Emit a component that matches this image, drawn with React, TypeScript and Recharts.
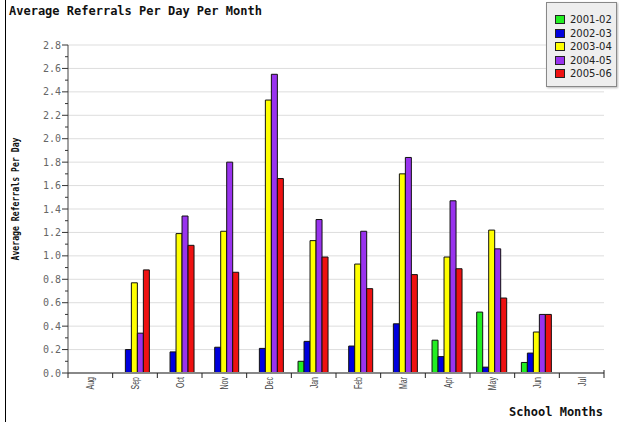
import React from 'react';
import { BarChart, Bar, XAxis, YAxis, CartesianGrid } from 'recharts';

const months = ['Aug', 'Sep', 'Oct', 'Nov', 'Dec', 'Jan', 'Feb', 'Mar', 'Apr', 'May', 'Jun', 'Jul'];
const s0102 = [null, null, null, null, null, 0.10, null, null, 0.28, 0.52, 0.09, null];
const s0203 = [null, 0.20, 0.18, 0.22, 0.21, 0.27, 0.23, 0.42, 0.14, 0.05, 0.17, null];
const s0304 = [null, 0.77, 1.19, 1.21, 2.33, 1.13, 0.93, 1.70, 0.99, 1.22, 0.35, null];
const s0405 = [null, 0.34, 1.34, 1.80, 2.55, 1.31, 1.21, 1.84, 1.47, 1.06, 0.50, null];
const s0506 = [null, 0.88, 1.09, 0.86, 1.66, 0.99, 0.72, 0.84, 0.89, 0.64, 0.50, null];

const seriesNames = ['2001-02', '2002-03', '2003-04', '2004-05', '2005-06'];
const seriesKeys = ['s0102', 's0203', 's0304', 's0405', 's0506'];
const seriesColors = ['#22ee22', '#0000dd', '#ffff00', '#9933ee', '#ee1111'];
const seriesValues = [s0102, s0203, s0304, s0405, s0506];

const majorTicks = [0, 0.2, 0.4, 0.6, 0.8, 1.0, 1.2, 1.4, 1.6, 1.8, 2.0, 2.2, 2.4, 2.6, 2.8];
const allTicks = [0, 0.1, 0.2, 0.3, 0.4, 0.5, 0.6, 0.7, 0.8, 0.9, 1.0, 1.1, 1.2, 1.3, 1.4, 1.5, 1.6, 1.7, 1.8, 1.9, 2.0, 2.1, 2.2, 2.3, 2.4, 2.5, 2.6, 2.7, 2.8];

const data = months.map((m, i) => {
  const row: any = { month: m };
  seriesKeys.forEach((k, j) => { row[k] = seriesValues[j][i]; });
  return row;
});

const YTick = (props: any) => {
  const { x, y, payload } = props;
  const v = payload.value;
  const isMajor = majorTicks.some((t) => Math.abs(t - v) < 1e-6);
  return (
    <g>
      <line x1={isMajor ? x + 1 : x + 4} x2={x + 7} y1={y} y2={y} stroke="#333" strokeWidth={1} />
      {isMajor && (
        <text x={x} y={y} dy="0.35em" textAnchor="end" fontFamily="'DejaVu Sans Mono', monospace" fontSize={10} fill="#666">
          {v.toFixed(1)}
        </text>
      )}
    </g>
  );
};

const XTick = (props: any) => {
  const { x, y, payload, index } = props;
  const off = payload && payload.offset != null ? payload.offset : 22.33;
  const ay = y - 5;
  return (
    <g>
      <line x1={x - off} x2={x - off} y1={ay} y2={ay + 5} stroke="#222" strokeWidth={1} />
      {index === months.length - 1 && (
        <line x1={x + off} x2={x + off} y1={ay - 3} y2={ay + 5} stroke="#222" strokeWidth={1} />
      )}
      <g transform={`translate(${x},${y - 1}) rotate(-90)`}>
        <text x={0} y={0} dy="0.36em" textAnchor="end" transform="scale(0.64,1)" fontFamily="'Liberation Sans', Arial, sans-serif" fontSize={11} fill="#444">
          {payload.value}
        </text>
      </g>
    </g>
  );
};

export default function App() {
  return (
    <div style={{ position: 'absolute', left: 0, top: 0, width: 619, height: 422, background: '#fff', overflow: 'hidden' }}>
      <BarChart
        width={619}
        height={422}
        data={data}
        margin={{ top: 45, right: 15, bottom: 19, left: 0 }}
        barGap={0}
        barCategoryGap="15%"
      >
        <CartesianGrid vertical={false} stroke="#dddddd" horizontalValues={majorTicks.slice(1)} />
        <XAxis
          dataKey="month"
          interval={0}
          tick={<XTick />}
          tickLine={false}
          tickSize={5}
          tickMargin={0}
          axisLine={{ stroke: '#888', strokeWidth: 2 }}
          height={30}
        />
        <YAxis
          type="number"
          domain={[0, 2.8]}
          ticks={allTicks}
          interval={0}
          tick={<YTick />}
          tickLine={false}
          tickSize={6}
          tickMargin={1}
          axisLine={{ stroke: '#444' }}
          width={68}
        />
        {seriesKeys.map((k, j) => (
          <Bar key={k} dataKey={k} name={seriesNames[j]} fill={seriesColors[j]} stroke="#111" strokeWidth={1} isAnimationActive={false} />
        ))}
      </BarChart>
      <svg width={619} height={422} style={{ position: 'absolute', left: 0, top: 0, pointerEvents: 'none' }}>
        <line x1={5.5} x2={5.5} y1={0} y2={422} stroke="#000" strokeWidth={1} />
        <text x={9} y={15} fontFamily="'DejaVu Sans Mono', monospace" fontWeight="bold" fontSize={12} fill="#111">
          Average Referrals Per Day Per Month
        </text>
        <text
          transform="translate(19,199) rotate(-90)"
          textAnchor="middle"
          fontFamily="'DejaVu Sans Mono', monospace"
          fontWeight="bold"
          fontSize={11}
          textLength={123}
          lengthAdjust="spacingAndGlyphs"
          fill="#111"
        >
          Average Referrals Per Day
        </text>
        <text x={603} y={416} textAnchor="end" fontFamily="'DejaVu Sans Mono', monospace" fontWeight="bold" fontSize={12} fill="#111">
          School Months
        </text>
      </svg>
      <div
        style={{
          position: 'absolute',
          left: 546,
          top: 2,
          width: 69,
          height: 83,
          background: '#eeeeee',
          border: '1px solid #888',
          boxShadow: '1px 1px 2px #bbb',
        }}
      >
        {seriesNames.map((n, j) => (
          <div key={n} style={{ position: 'absolute', left: 8, top: 11 + j * 13.5, height: 11, display: 'flex', alignItems: 'center' }}>
            <div style={{ width: 10, height: 9, background: seriesColors[j], border: '1px solid #222', boxSizing: 'border-box' }} />
            <span style={{ marginLeft: 5, fontFamily: "'DejaVu Sans', Verdana, sans-serif", fontSize: 10, color: '#222', lineHeight: '11px' }}>{n}</span>
          </div>
        ))}
      </div>
    </div>
  );
}
